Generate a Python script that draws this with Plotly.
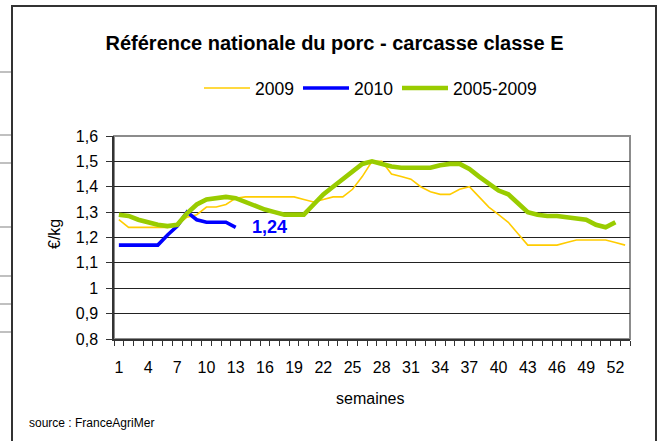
import plotly.graph_objects as go

# Semaines 1..53
weeks = list(range(1, 54))
tick_weeks = [1, 4, 7, 10, 13, 16, 19, 22, 25, 28, 31, 34, 37, 40, 43, 46, 49, 52]

# Prix €/kg
price_2009 = [1.27, 1.24, 1.24, 1.24, 1.24, 1.24, 1.25, 1.28, 1.29, 1.32,
              1.32, 1.33, 1.355, 1.36, 1.36, 1.36, 1.36, 1.36, 1.36, 1.35,
              1.34, 1.35, 1.36, 1.36, 1.39, 1.44, 1.50, 1.50, 1.45, 1.44,
              1.43, 1.40, 1.38, 1.37, 1.37, 1.39, 1.40, 1.36, 1.32, 1.29,
              1.26, 1.215, 1.17, 1.17, 1.17, 1.17, 1.18, 1.19, 1.19, 1.19,
              1.19, 1.18, 1.17]
price_2010 = [1.17, 1.17, 1.17, 1.17, 1.17, 1.21, 1.245, 1.30, 1.27, 1.26,
              1.26, 1.26, 1.24]
price_2005_2009 = [1.29, 1.285, 1.27, 1.26, 1.25, 1.245, 1.25, 1.295, 1.33, 1.35,
                   1.355, 1.36, 1.355, 1.34, 1.325, 1.31, 1.30, 1.29, 1.29, 1.29,
                   1.33, 1.37, 1.40, 1.43, 1.465, 1.49, 1.50, 1.49, 1.48, 1.475,
                   1.475, 1.475, 1.475, 1.485, 1.49, 1.49, 1.47, 1.44, 1.41, 1.385,
                   1.37, 1.335, 1.30, 1.29, 1.285, 1.285, 1.28, 1.275, 1.27, 1.25,
                   1.24, 1.26]

y_ticks = [0.8, 0.9, 1.0, 1.1, 1.2, 1.3, 1.4, 1.5, 1.6]

FONT = "Arial, Liberation Sans, sans-serif"

# plot area in pixels (663x441 page)
L, R, T, B = 114, 630, 136, 339
W, H = 663, 441


def px_x(p):
    return (p - L) / (R - L)


def px_y(p):
    return (B - p) / (B - T)


series = [
    ("2009", price_2009, "#FFCC00", 1.6),
    ("2010", price_2010, "#0000FF", 3.6),
    ("2005-2009", price_2005_2009, "#99CC00", 4.6),
]

fig = go.Figure()
for name, vals, color, width in series:
    fig.add_trace(go.Scatter(x=weeks[:len(vals)], y=vals, mode="lines", name=name,
                             line=dict(color=color, width=width), showlegend=False))

# hand drawn legend (Excel style: long line sample + label)
legend_x = [204, 303, 402]
for (name, vals, color, width), lx in zip(series, legend_x):
    fig.add_shape(type="line", xref="paper", yref="paper", x0=px_x(lx), x1=px_x(lx + 46),
                  y0=px_y(88), y1=px_y(88), line=dict(color=color, width=width))
    fig.add_annotation(x=px_x(lx + 49), y=px_y(89), xref="paper", yref="paper", text=name,
                       xanchor="left", yanchor="middle", showarrow=False,
                       font=dict(family=FONT, size=17.5, color="#000"))

# label on last 2010 value
fig.add_annotation(x=weeks[len(price_2010) - 1], y=price_2010[-1], text="<b>1,24</b>",
                   showarrow=False, xanchor="left", yanchor="middle", xshift=14,
                   font=dict(family=FONT, size=18, color="#0000FF"))

# axis titles and source
fig.add_annotation(x=px_x(370), y=px_y(398), xref="paper", yref="paper", text="semaines",
                   xanchor="center", yanchor="middle", showarrow=False,
                   font=dict(family=FONT, size=16, color="#000"))
fig.add_annotation(x=px_x(54), y=px_y(234), xref="paper", yref="paper", text="€/kg",
                   xanchor="center", yanchor="middle", textangle=-90, showarrow=False,
                   font=dict(family=FONT, size=16, color="#000"))
fig.add_annotation(x=px_x(27), y=px_y(423), xref="paper", yref="paper",
                   text="source : FranceAgriMer", xanchor="left", yanchor="middle",
                   showarrow=False, font=dict(family=FONT, size=12, color="#000"))

# grey border top/right of plot area
fig.add_shape(type="rect", xref="paper", yref="paper", x0=0, x1=1, y0=0, y1=1,
              line=dict(color="#8c8c8c", width=2), layer="below")

# outer chart frame
fig.add_shape(type="rect", xref="paper", yref="paper", x0=px_x(12), x1=px_x(656),
              y0=px_y(447), y1=px_y(6), line=dict(color="#333333", width=2))

# spreadsheet cell borders peeking out on the left
for yy in [72, 135, 163, 227, 276, 304, 332]:
    fig.add_shape(type="line", xref="paper", yref="paper", x0=px_x(0), x1=px_x(11),
                  y0=px_y(yy), y1=px_y(yy), line=dict(color="#c0c0c0", width=2))

fig.update_xaxes(
    range=[0.5, 53.5], tickvals=tick_weeks, ticktext=[str(w) for w in tick_weeks],
    ticks="", showgrid=False, zeroline=False,
    showline=True, linecolor="#333", linewidth=1.5,
    minor=dict(ticks="outside", tick0=0.5, dtick=1, ticklen=5, tickcolor="#333", showgrid=False),
    tickfont=dict(family=FONT, size=16, color="#000"), ticklabelstandoff=13,
)
fig.update_yaxes(
    range=[0.8, 1.6], tickvals=y_ticks, ticks="outside", ticklen=6, tickcolor="#333",
    showgrid=True, gridcolor="#222", gridwidth=1, zeroline=False,
    showline=True, linecolor="#333", linewidth=1.5,
    tickfont=dict(family=FONT, size=16, color="#000"), ticklabelstandoff=5,
)

fig.update_layout(
    width=W, height=H,
    margin=dict(l=L, r=W - R, t=T, b=H - B),
    paper_bgcolor="white", plot_bgcolor="white",
    separators=", ",
    title=dict(text="<b>Référence nationale du porc - carcasse classe E</b>",
               x=334.5 / W, xanchor="center",
               y=1 - 43 / H, yanchor="middle",
               font=dict(family=FONT, size=20, color="#000")),
    showlegend=False,
)

# page default body margin would shift the chart by 8px
fig.write_html("out.html", config={"displayModeBar": False},
               post_script="document.body.style.margin='0';")
